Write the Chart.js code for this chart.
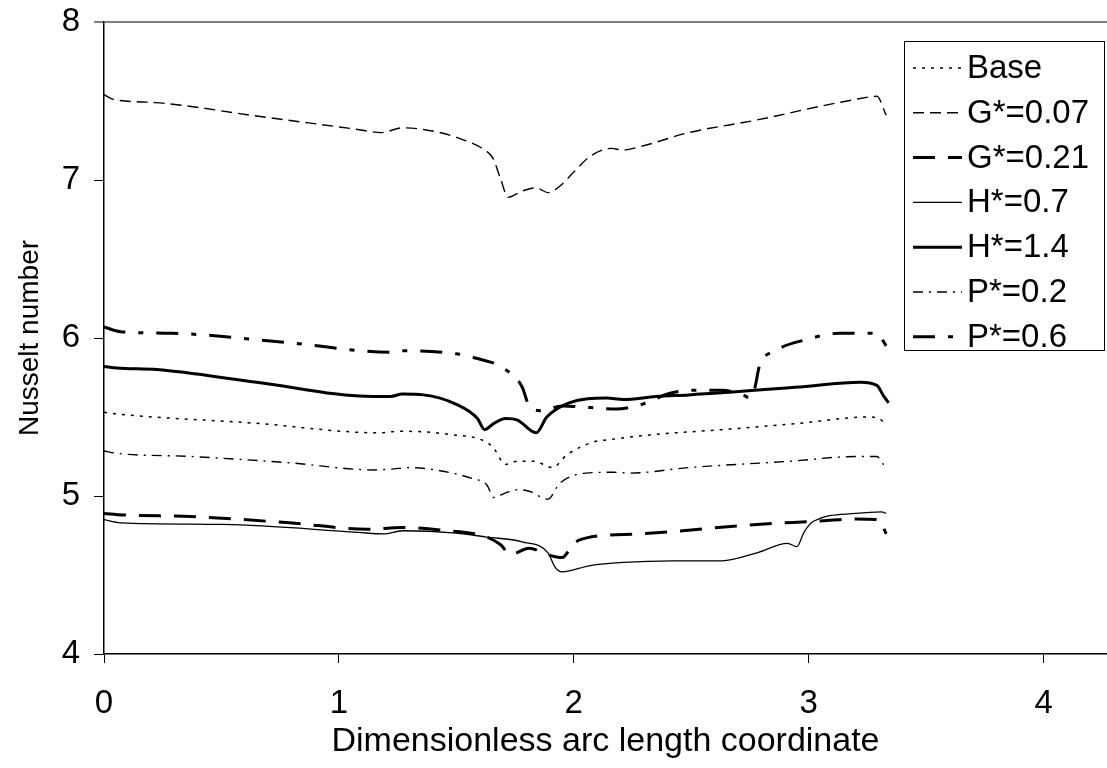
<!DOCTYPE html>
<html lang="en">
<head>
<meta charset="UTF-8" />
<title>Nusselt number along the arc</title>
<script src="https://cdn.jsdelivr.net/npm/chart.js"></script>
<style>
  html, body { margin: 0; padding: 0; background: #fff; }
  #wrap { width: 1107px; height: 768px; }
</style>
</head>
<body>
<div id="wrap"><canvas id="myChart" width="1107" height="768"></canvas></div>
<script>
// values
const seriesNames = ["Base", "G*=0.07", "G*=0.21", "H*=0.7", "H*=1.4", "P*=0.2", "P*=0.6"];

const baseX = [0, 0.05, 0.65, 1.17, 1.26, 1.47, 1.63, 1.66, 1.71, 1.76, 1.83, 1.91, 1.97, 2.08, 2.17, 2.35, 2.63, 2.96, 3.25, 3.30, 3.33];
const baseY = [5.53, 5.52, 5.46, 5.40, 5.41, 5.39, 5.34, 5.30, 5.20, 5.22, 5.22, 5.18, 5.26, 5.34, 5.36, 5.39, 5.42, 5.46, 5.50, 5.49, 5.45];

const g007X = [0, 0.04, 0.22, 0.65, 1.08, 1.18, 1.27, 1.36, 1.50, 1.63, 1.655, 1.69, 1.72, 1.78, 1.84, 1.89, 1.94, 2.0, 2.07, 2.16, 2.21, 2.28, 2.49, 2.78, 3.06, 3.2, 3.29, 3.33];
const g007Y = [7.54, 7.51, 7.49, 7.405, 7.32, 7.30, 7.33, 7.32, 7.27, 7.18, 7.14, 7.0, 6.89, 6.93, 6.95, 6.92, 6.96, 7.05, 7.15, 7.20, 7.19, 7.21, 7.30, 7.38, 7.47, 7.51, 7.53, 7.41];

const g021X = [0, 0.08, 0.37, 0.79, 1.12, 1.27, 1.43, 1.63, 1.69, 1.73, 1.81, 1.885, 1.95, 2.0, 2.07, 2.28, 2.78, 3.03, 3.2, 3.3, 3.33];
const g021Y = [4.89, 4.88, 4.87, 4.83, 4.79, 4.80, 4.785, 4.74, 4.69, 4.63, 4.67, 4.63, 4.61, 4.70, 4.74, 4.76, 4.82, 4.84, 4.855, 4.85, 4.76];

const h07X = [0, 0.07, 0.51, 1.08, 1.19, 1.27, 1.50, 1.63, 1.78, 1.89, 1.92, 1.95, 2.07, 2.21, 2.42, 2.63, 2.78, 2.91, 2.95, 2.98, 3.02, 3.2, 3.31, 3.33];
const h07Y = [4.85, 4.83, 4.82, 4.77, 4.76, 4.78, 4.765, 4.74, 4.71, 4.64, 4.55, 4.52, 4.56, 4.58, 4.59, 4.59, 4.64, 4.70, 4.68, 4.77, 4.84, 4.89, 4.90, 4.89];

const h14X = [0, 0.055, 0.225, 0.65, 1.15, 1.22, 1.27, 1.36, 1.50, 1.59, 1.62, 1.66, 1.71, 1.76, 1.84, 1.885, 1.98, 2.14, 2.21, 2.35, 2.49, 2.96, 3.22, 3.29, 3.32, 3.34];
const h14Y = [5.82, 5.81, 5.80, 5.72, 5.63, 5.63, 5.645, 5.64, 5.58, 5.49, 5.42, 5.46, 5.49, 5.48, 5.40, 5.50, 5.59, 5.62, 5.61, 5.63, 5.64, 5.69, 5.72, 5.70, 5.63, 5.59];

const p02X = [0, 0.055, 0.37, 0.79, 1.15, 1.22, 1.30, 1.43, 1.57, 1.63, 1.66, 1.71, 1.76, 1.81, 1.89, 1.94, 2.05, 2.17, 2.24, 2.49, 2.92, 3.2, 3.29, 3.33];
const p02Y = [5.285, 5.27, 5.25, 5.21, 5.165, 5.17, 5.18, 5.16, 5.11, 5.07, 4.99, 5.02, 5.04, 5.03, 4.98, 5.08, 5.145, 5.15, 5.145, 5.18, 5.22, 5.25, 5.25, 5.17];

const p06X = [0, 0.07, 0.29, 0.79, 1.22, 1.27, 1.50, 1.59, 1.70, 1.78, 1.81, 1.86, 1.95, 2.07, 2.18, 2.29, 2.41, 2.52, 2.63, 2.72, 2.75, 2.77, 2.79, 2.86, 2.99, 3.13, 3.22, 3.29, 3.33];
const p06Y = [6.07, 6.04, 6.03, 5.97, 5.91, 5.92, 5.90, 5.87, 5.81, 5.69, 5.57, 5.54, 5.57, 5.56, 5.55, 5.58, 5.65, 5.67, 5.67, 5.64, 5.62, 5.68, 5.82, 5.92, 5.99, 6.03, 6.03, 6.03, 5.95];

const xTickValues = [0, 1, 2, 3, 4];
const yTickValues = [4, 5, 6, 7, 8];

function pts(xs, ys) {
    return xs.map((x, i) => ({ x: x, y: ys[i] }));
}

const styles = [
    { width: 1.5, dash: [3, 6] },
    { width: 1.4, dash: [11, 6] },
    { width: 3, dash: [22, 13] },
    { width: 1.3, dash: [] },
    { width: 3, dash: [] },
    { width: 1.4, dash: [10, 6, 2, 6] },
    { width: 3, dash: [22, 13, 5, 13] },
];

const seriesData = [
    pts(baseX, baseY), pts(g007X, g007Y), pts(g021X, g021Y),
    pts(h07X, h07Y), pts(h14X, h14Y), pts(p02X, p02Y), pts(p06X, p06Y),
];

const datasets = seriesNames.map((name, i) => ({
    label: name,
    data: seriesData[i],
    borderColor: "#000",
    borderWidth: styles[i].width,
    borderDash: styles[i].dash,
    pointRadius: 0,
    fill: false,
    cubicInterpolationMode: "monotone",
}));

const FONT = "'Liberation Sans', Arial, sans-serif";

// legend box drawn inside the plot, top right
const boxLegend = {
    id: "boxLegend",
    afterDatasetsDraw(chart) {
        const ctx = chart.ctx;
        const left = 904, top = 41, w = 200, h = 309;
        ctx.save();
        ctx.fillStyle = "#fff";
        ctx.fillRect(left, top, w, h);
        ctx.strokeStyle = "#000";
        ctx.lineWidth = 1;
        ctx.setLineDash([]);
        ctx.strokeRect(left + 0.5, top + 0.5, w, h);
        ctx.font = "33px " + FONT;
        ctx.textBaseline = "middle";
        ctx.fillStyle = "#000";
        chart.data.datasets.forEach((ds, i) => {
            const y = 68 + i * 44.8;
            ctx.beginPath();
            ctx.lineWidth = ds.borderWidth;
            ctx.setLineDash(ds.borderDash);
            ctx.moveTo(913, y);
            ctx.lineTo(962, y);
            ctx.stroke();
            ctx.setLineDash([]);
            ctx.fillText(ds.label, 967, y + 1);
        });
        ctx.restore();
    },
};

const config = {
    type: "line",
    data: { datasets: datasets },
    options: {
        responsive: false,
        animation: false,
        layout: { padding: { top: 22, right: 0, left: 0, bottom: 0 } },
        plugins: {
            legend: { display: false },
            tooltip: { enabled: false },
        },
        scales: {
            x: {
                type: "linear",
                min: 0,
                max: 4.27,
                afterFit(scale) {
                    scale.height = 114;
                    scale.paddingLeft = 0;
                    scale.paddingRight = 0;
                },
                afterBuildTicks(scale) {
                    scale.ticks = xTickValues.map((v) => ({ value: v }));
                },
                border: { display: true, color: "#000", width: 1.5 },
                grid: {
                    drawOnChartArea: false,
                    drawTicks: true,
                    tickLength: 9,
                    tickColor: "#000",
                },
                ticks: {
                    color: "#000",
                    padding: 21,
                    maxRotation: 0,
                    font: { family: FONT, size: 33 },
                },
                title: {
                    display: true,
                    text: "Dimensionless arc length coordinate",
                    color: "#000",
                    font: { family: FONT, size: 34 },
                    padding: { top: 0, bottom: 6 },
                },
            },
            y: {
                min: 4,
                max: 8,
                afterFit(scale) {
                    scale.width = 104;
                    scale.paddingTop = 0;
                    scale.paddingBottom = 0;
                },
                afterBuildTicks(scale) {
                    scale.ticks = yTickValues.map((v) => ({ value: v }));
                },
                border: { display: true, color: "#000", width: 1.5 },
                grid: {
                    drawOnChartArea: true,
                    tickLength: 10,
                    color: (c) => (c.tick && c.tick.value === 8 ? "#808080" : "rgba(0,0,0,0)"),
                    lineWidth: (c) => (c.tick && c.tick.value === 8 ? 2 : 1),
                    tickColor: (c) => (c.tick && c.tick.value === 8 ? "#808080" : "#000"),
                },
                ticks: {
                    color: "#000",
                    padding: 14,
                    font: { family: FONT, size: 33 },
                },
                title: {
                    display: true,
                    text: "Nusselt number",
                    color: "#000",
                    font: { family: FONT, size: 28 },
                    padding: { top: 13, bottom: 0 },
                },
            },
        },
    },
    plugins: [boxLegend],
};

const myChart = new Chart(document.getElementById("myChart").getContext("2d"), config);
</script>
</body>
</html>
